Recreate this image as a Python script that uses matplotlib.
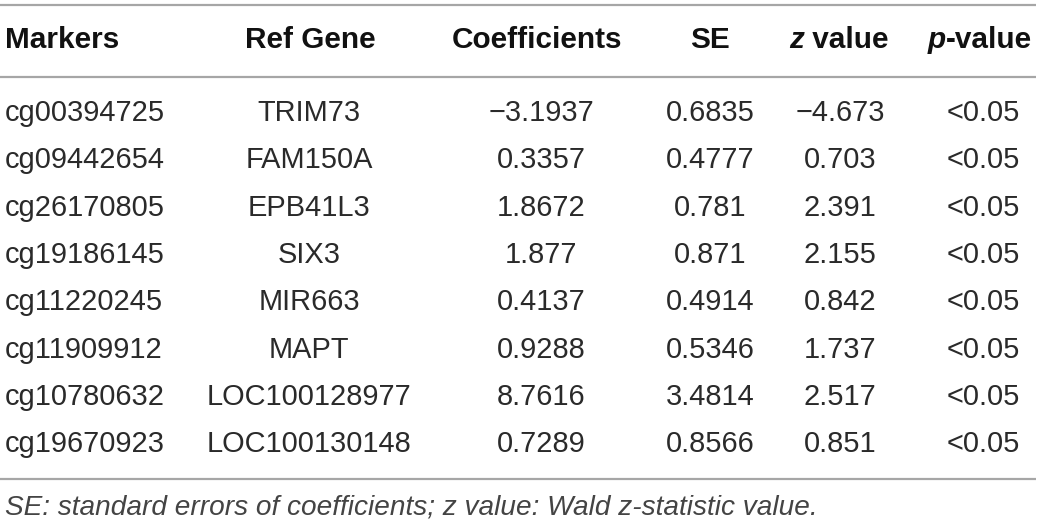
import matplotlib
matplotlib.use("Agg")
import matplotlib.pyplot as plt

markers = ["cg00394725", "cg09442654", "cg26170805", "cg19186145",
           "cg11220245", "cg11909912", "cg10780632", "cg19670923"]
genes = ["TRIM73", "FAM150A", "EPB41L3", "SIX3", "MIR663", "MAPT",
         "LOC100128977", "LOC100130148"]
coefs = [-3.1937, 0.3357, 1.8672, 1.877, 0.4137, 0.9288, 8.7616, 0.7289]
ses = [0.6835, 0.4777, 0.781, 0.871, 0.4914, 0.5346, 3.4814, 0.8566]
zvals = [-4.673, 0.703, 2.391, 2.155, 0.842, 1.737, 2.517, 0.851]
pvals = ["<0.05"] * 8
footnote = "SE: standard errors of coefficients; z value: Wald z-statistic value."

W, H = 1039, 526
fig = plt.figure(figsize=(W / 100, H / 100), dpi=100)
ax = fig.add_axes([0, 0, 1, 1])
ax.set_xlim(0, W)
ax.set_ylim(H, 0)
ax.axis("off")

FONT = "Liberation Sans"
FS = 20.9
HFS = 21.4
TXT = "#2a2a2a"
HCOL = "#111111"
LINE = "#a6a6a6"

def fmt(v):
    s = repr(v)
    return s.replace("-", "\u2212")

# rules
for y in (5, 77, 479):
    ax.plot([0, 1036], [y, y], color=LINE, lw=1.6, solid_capstyle="butt")

# header
hy = 40
ax.text(5, hy, "Markers", ha="left", va="center", fontsize=HFS, fontweight="bold",
        family=FONT, color=HCOL)
ax.text(310, hy, "Ref Gene", ha="center", va="center", fontsize=HFS, fontweight="bold",
        family=FONT, color=HCOL)
ax.text(537, hy, "Coefficients", ha="center", va="center", fontsize=HFS, fontweight="bold",
        family=FONT, color=HCOL)
ax.text(710, hy, "SE", ha="center", va="center", fontsize=HFS, fontweight="bold",
        family=FONT, color=HCOL)

renderer = fig.canvas.get_renderer()

def mixed(xc, y, parts):
    objs = []
    widths = []
    for txt, style in parts:
        t = ax.text(0, y, txt, ha="left", va="center", fontsize=HFS, fontweight="bold",
                    fontstyle=style, family=FONT, color=HCOL)
        bb = t.get_window_extent(renderer=renderer)
        objs.append(t)
        widths.append(bb.width)
    total = sum(widths)
    x = xc - total / 2
    for t, w in zip(objs, widths):
        t.set_x(x)
        x += w

mixed(839, hy, [("z", "italic"), (" value", "normal")])
mixed(980, hy, [("p", "italic"), ("-value", "normal")])

# rows
y0, dy = 113, 47.3
for i in range(len(markers)):
    y = y0 + i * dy
    kw = dict(va="center", fontsize=FS, family=FONT, color=TXT)
    ax.text(5, y, markers[i], ha="left", **kw)
    ax.text(309, y, genes[i], ha="center", **kw)
    ax.text(541, y, fmt(coefs[i]), ha="center", **kw)
    ax.text(710, y, fmt(ses[i]), ha="center", **kw)
    ax.text(840, y, fmt(zvals[i]), ha="center", **kw)
    ax.text(983, y, pvals[i], ha="center", **kw)

ax.text(5, 508, footnote, ha="left", va="center", fontsize=20.2, fontstyle="italic",
        family=FONT, color="#444444")

fig.savefig("out.png", dpi=100)
